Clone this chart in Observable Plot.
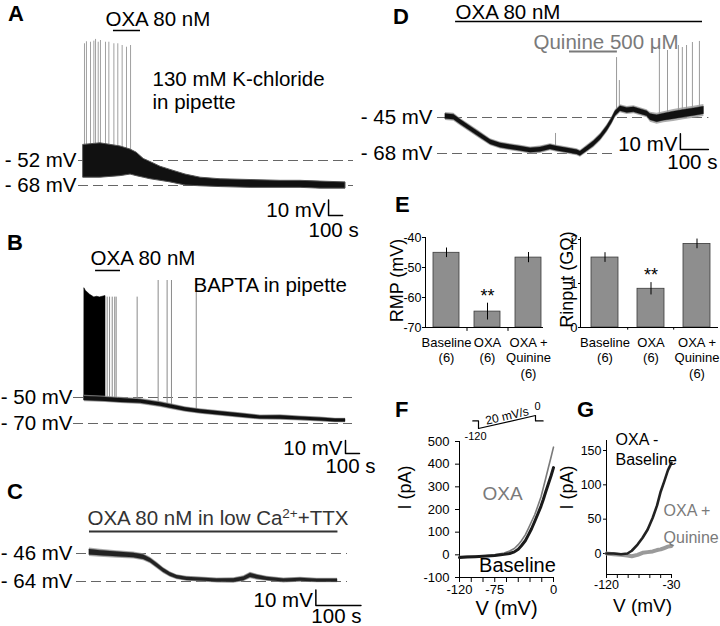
<!DOCTYPE html>
<html><head><meta charset="utf-8">
<script src="https://cdn.jsdelivr.net/npm/d3@7"></script>
<script src="https://cdn.jsdelivr.net/npm/@observablehq/plot@0.6"></script>
<style>
html,body{margin:0;padding:0;background:#fff;}
#fig{position:relative;width:720px;height:626px;overflow:hidden;background:#fff;font-family:"Liberation Sans",Arial,Helvetica,sans-serif;}
#fig svg{position:absolute;left:0;top:0;}
.letter{position:absolute;font-weight:bold;font-size:22px;line-height:1;color:#000;}
</style></head><body><div id="fig"></div>
<script>
// ---------- Panel A: 130 mM K-chloride in pipette ----------
const aLevels = [-52, -68];
const aOxa = [214, 407];                  // s, OXA application
const aTime = [0, 121, 264, 336, 380, 430, 479, 550, 621, 729, 836, 979, 1193, 1407, 1550, 1693, 1871];
const aLow  = [-63, -63, -62, -61, -62, -63, -64, -65, -66, -68, -68.5, -69, -69.5, -69.5, -69.5, -70, -70];
const aHigh = [-42, -41, -43, -45, -47, -51, -53, -56, -58, -61, -63, -64, -64.5, -65, -65, -65.5, -66];
const aSpikeTime = [7, 21, 50, 74, 86, 105, 121, 157, 181, 217, 245, 276, 307, 336];
const aSpikePeak = [22.7, 24, 23.7, 24.4, 25.5, 23.7, 24.8, 23.7, 23.7, 22.7, 22.7, 21.6, 20.5, 21.6];
const aSpikeBase = -52;
const aScale = [1750, -87.2];

// ---------- Panel B: BAPTA in pipette ----------
const bLevels = [-50, -70];
const bOxa = [79, 257];
const bTime  = [0, 150, 257, 400, 543, 614, 721, 829, 971, 1114, 1257, 1400, 1543, 1686, 1793, 1864];
const bMid   = [-50.8, -51.5, -52.3, -53.1, -55.4, -56.9, -59.2, -60.8, -62.3, -63.8, -65.4, -65.4, -66.2, -66.9, -67.7, -67.7];
const bNoise = [1.6, 1.5, 1.5, 1.4, 1.4, 1.4, 1.3, 1.3, 1.3, 1.3, 1.2, 1.3, 1.2, 1.2, 1.1, 1.1];
const bBurstTime = [0, 10, 40, 70, 90, 110, 150];
const bBurstTop  = [33.8, 32, 29, 27, 27.5, 27, 28];
const bBurstBase = -52;
const bSpikeTime = [162, 179, 198, 216, 226, 376, 526, 590, 621, 798];
const bSpikePeak = [27.2, 27.2, 27.2, 27.2, 27.2, 27.2, 40, 40, 40, 40];
const bSpikeBase = [-51, -51, -51, -52, -52, -53, -56, -57, -57, -60];
const bScale = [1864, -93.1];

// ---------- Panel C: low Ca2+ + TTX ----------
const cLevels = [-46, -64];
const cOxa = [0, 551];
const cTime  = [0, 24, 61, 98, 120, 135, 150, 164, 179, 194, 216, 246, 283, 320, 342, 357, 372, 394, 431, 468, 505, 543, 550];
const cMid   = [-45.2, -45.8, -46.6, -47.3, -48.4, -50.5, -53.7, -56.9, -59.5, -61.2, -62.3, -62.7, -63.4, -63.4, -62.3, -60.1, -61.2, -62.3, -63.4, -62.9, -63.4, -63.4, -63.4];
const cNoise = [1.7, 1.6, 1.5, 1.4, 1.4, 1.3, 1.3, 1.2, 1.1, 1.0, 1.0, 1.0, 1.0, 1.1, 1.2, 1.3, 1.2, 1.0, 1.0, 1.0, 0.9, 0.9, 0.9];
const cScale = [502, -79.4];

// ---------- Panel D: OXA then quinine ----------
const dLevels = [-45, -68];
const dOxa = [36, 918];
const dQuinine = [443, 614];
const dTime  = [0, 30, 54, 89, 125, 161, 196, 232, 268, 304, 339, 375, 399, 435, 470, 482, 506, 530, 554, 577, 595, 607, 625, 649, 673, 702, 720, 732, 756, 780, 815, 851, 887, 923];
const dMid   = [-44.4, -44.8, -48.0, -52.2, -56.5, -60.8, -62.9, -64.0, -65.0, -66.1, -65.6, -64.0, -65.0, -66.1, -67.2, -68.2, -65.0, -61.8, -57.6, -52.2, -46.9, -42.6, -39.4, -40.5, -40.1, -41.6, -42.6, -44.8, -45.8, -44.8, -43.7, -42.6, -41.6, -40.5];
const dNoise = [1.6, 1.6, 1.5, 1.5, 1.5, 1.4, 1.4, 1.4, 1.4, 1.4, 1.5, 1.4, 1.4, 1.4, 1.4, 1.4, 1.5, 1.6, 1.6, 1.6, 1.6, 1.6, 1.6, 1.6, 1.6, 1.6, 1.6, 2.0, 2.2, 2.2, 2.4, 2.4, 2.4, 2.4];
const dSpikeTime = [393, 611, 621, 764, 793, 832, 846, 861, 882, 907];
const dSpikePeak = [-55.2, -6.7, -21.4, -0.9, -2.2, 1.0, -0.3, 1.0, 2.9, 3.6];
const dSpikeBase = [-64, -42, -40, -44, -44, -43, -43, -43, -42, -41];
const dScale = [839, -65.4];

// ---------- Panel E: bar charts ----------
const eCats = ["Baseline", "OXA", "OXA + Quinine"];
const eTickLabels = ["Baseline", "OXA", "OXA +\nQuinine"];
const eN = [6, 6, 6];
const eRmp = [-45.1, -64.7, -46.7];
const eRmpErr = [1.6, 2.8, 1.7];
const eRin = [1.59, 0.88, 1.9];
const eRinErr = [0.11, 0.14, 0.11];
const eSig = ["", "**", ""];
const eRmpTicks = [-70, -60, -50, -40];
const eRinTicks = [0, 1, 2];

// ---------- Panel F: I-V ramps ----------
const fV    = [-120, -110, -100, -90, -80, -75, -70, -63, -56, -50, -45, -41, -36, -32, -28, -24, -20, -16, -13, -10, -6.5, -3, 0];
const fBase = [-12, -10, -8, -6, -4, -3, -1, 2, 6, 13, 25, 40, 62, 88, 115, 147, 180, 214, 244, 277, 314, 350, 385];
const fOxa  = [-8, -7, -6, -5, -2, 0, 3, 8, 17, 28, 45, 62, 88, 117, 147, 177, 215, 255, 296, 337, 385, 433, 475];
const fYTicks = [-100, 0, 100, 200, 300, 400, 500];
const fXTickLabels = [-120, -75, 0];
const protoT = [0, 0.6, 0.6, 6.6, 6.6, 7.4];
const protoV = [-50, -50, -120, 0, -50, -50];
const rampRate = 20;

// ---------- Panel G: difference currents ----------
const gV    = [-120, -110, -100, -91, -85, -77, -70, -63, -56, -50, -45, -40, -35, -30];
const gDiff = [0, 0, -1, 0, 4, 13, 23, 35, 52, 70, 90, 105, 121, 132];
const gQuin = [0, -1, -2, -3, -4, -2, 1, 2, 3, 5, 6, 8, 10, 11];
const gYTicks = [0, 50, 100, 150];
const gXTickLabels = [-120, -30];

// ================= drawing =================
const FONT = '"Liberation Sans", Arial, Helvetica, sans-serif';
const fig = document.getElementById("fig");
const GRAY = "#7a7a7a";
const DASH = {stroke: "#666", strokeWidth: 1, strokeDasharray: "10,5"};

function add(opts, fontSize = "20.5px") {
  const svg = Plot.plot({
    width: 720, height: 626,
    marginTop: 0, marginRight: 0, marginBottom: 0, marginLeft: 0,
    ...opts,
    style: {background: "none", fontFamily: FONT, fontSize, overflow: "visible",
            position: "absolute", left: "0px", top: "0px", maxWidth: "none"}
  });
  fig.appendChild(svg);
  return svg;
}
const lvl = d => `- ${Math.abs(d)} mV`;
const bandRows = (time, lo, hi) => time.map((t, i) => ({t, lo: lo[i], hi: hi[i]}));
const noisyRows = (time, mid, noise, k = 1) => time.map((t, i) => ({t, lo: mid[i] - k * noise[i], hi: mid[i] + k * noise[i]}));
const spikeRows = (time, base, peak) => time.map((t, i) => ({t, base: Array.isArray(base) ? base[i] : base, peak: peak[i]}));

function trace(time, mid, noise, color = "#111") {
  return [
    Plot.areaY(noisyRows(time, mid, noise, 1.6), {x: "t", y1: "lo", y2: "hi", fill: "#9a9a9a", fillOpacity: 0.8}),
    Plot.areaY(noisyRows(time, mid, noise), {x: "t", y1: "lo", y2: "hi", fill: color, stroke: color, strokeWidth: 0.4})
  ];
}
function levelMarks(levels, t0, t1, dx, insL, insR) {
  return [
    Plot.ruleY(levels, {x1: t0, x2: t1, ...DASH, insetLeft: insL, insetRight: insR}),
    Plot.text(levels, {x: t0, y: d => d, text: lvl, textAnchor: "end", dx})
  ];
}
function drug(interval, level, label, {dx = 0, dy = -10, color = "#000", width = 1.5} = {}) {
  return [
    Plot.ruleY([level], {x1: interval[0], x2: interval[1], stroke: color, strokeWidth: width}),
    Plot.text([label], {x: interval[0], y: level, dx, dy, textAnchor: "start", fill: color})
  ];
}
function scaleBar([t, v], dy = 13) {
  const path = [{t, v: v + 10}, {t, v}, {t: t + 100, v}];
  return [
    Plot.line(path, {x: "t", y: "v", stroke: "#000", strokeWidth: 1.5}),
    Plot.text(["10 mV"], {x: t, y: v, textAnchor: "end", dx: -3, dy: -5}),
    Plot.text(["100 s"], {x: t + 50, y: v, dy, dx: -2})
  ];
}
const note = (label, dx, dy, extra = {}) =>
  Plot.text([label], {frameAnchor: "top-left", dx, dy, textAnchor: "start", lineAnchor: "middle", ...extra});

// ----- A -----
add({
  x: {domain: [aTime[0], aTime.at(-1)], range: [83, 345], axis: null},
  y: {domain: aLevels, range: [160, 185], axis: null},
  marks: [
    ...levelMarks(aLevels, aTime[0], aTime.at(-1), -7, -5, -8),
    Plot.ruleX(spikeRows(aSpikeTime, aSpikeBase, aSpikePeak), {x: "t", y1: "base", y2: "peak", stroke: "#a0a0a0", strokeWidth: 1}),
    Plot.areaY(bandRows(aTime, aLow, aHigh), {x: "t", y1: "lo", y2: "hi", fill: "#111", stroke: "#555", strokeWidth: 1}),
    ...drug(aOxa, 31.2, "OXA 80 nM", {dx: -8, dy: -11, width: 1.5}),
    note("130 mM K-chloride\nin pipette", 152, 89.5, {lineHeight: 1.15}),
    ...scaleBar(aScale, 15)
  ]
});

// ----- B -----
add({
  x: {domain: [bTime[0], bTime.at(-1)], range: [84, 345], axis: null},
  y: {domain: bLevels, range: [397, 423], axis: null},
  marks: [
    ...levelMarks(bLevels, bTime[0], bTime.at(-1), -12, -11, -7),
    Plot.ruleX(spikeRows(bSpikeTime, bSpikeBase, bSpikePeak), {x: "t", y1: "base", y2: "peak", stroke: "#8a8a8a", strokeWidth: 1}),
    Plot.areaY(bandRows(bBurstTime, bBurstTime.map(() => bBurstBase), bBurstTop), {x: "t", y1: "lo", y2: "hi", fill: "#000", stroke: "#000", strokeWidth: 0.6}),
    ...trace(bTime, bMid, bNoise),
    ...drug(bOxa, 47.7, "OXA 80 nM", {dx: -5, dy: -12, width: 1.5}),
    note("BAPTA in pipette", 193, 285),
    ...scaleBar(bScale, 13)
  ]
});

// ----- C -----
const cParts = ["OXA 80 nM in low Ca", "2+", "+TTX"];
const cLabel = cParts.join("");
const cSvg = add({
  x: {domain: [cTime[0], cTime.at(-1)], range: [89, 337], axis: null},
  y: {domain: cLevels, range: [553, 581], axis: null},
  marks: [
    ...levelMarks(cLevels, cTime[0], cTime.at(-1), -17, -13, -10),
    ...trace(cTime, cMid, cNoise, "#222"),
    ...drug(cOxa, -31.9, cLabel, {dx: -2, dy: -13, color: "#333", width: 2}),
    ...scaleBar(cScale, 11)
  ]
});
for (const el of cSvg.querySelectorAll("text")) {
  if (el.textContent === cLabel) {
    el.textContent = "";
    const ns = "http://www.w3.org/2000/svg";
    const t1 = document.createElementNS(ns, "tspan"); t1.textContent = cParts[0];
    const t2 = document.createElementNS(ns, "tspan"); t2.textContent = cParts[1];
    t2.setAttribute("dy", "-7"); t2.setAttribute("font-size", "13.5");
    const t3 = document.createElementNS(ns, "tspan"); t3.textContent = cParts[2];
    t3.setAttribute("dy", "7");
    el.append(t1, t2, t3);
  }
}

// ----- D -----
add({
  x: {domain: [dTime[0], dTime.at(-1)], range: [445, 703.4], axis: null},
  y: {domain: dLevels, range: [117, 153], axis: null},
  marks: [
    Plot.ruleY([dLevels[0]], {x1: dTime[0], x2: dTime.at(-1), ...DASH, insetLeft: -8, insetRight: -5}),
    Plot.ruleY([dLevels[1]], {x1: dTime[0], x2: dQuinine[1], ...DASH, insetLeft: -8, insetRight: 0}),
    Plot.text(dLevels, {x: dTime[0], y: d => d, text: lvl, textAnchor: "end", dx: -13}),
    Plot.ruleX(spikeRows(dSpikeTime, dSpikeBase, dSpikePeak), {x: "t", y1: "base", y2: "peak", stroke: "#9a9a9a", strokeWidth: 1}),
    ...trace(dTime, dMid, dNoise),
    ...drug(dOxa, 16.3, "OXA 80 nM", {dx: 0, dy: -9, width: 1.5}),
    ...drug(dQuinine, -2.8, "Quinine 500 μM", {dx: -36, dy: -9, color: GRAY, width: 2}),
    ...scaleBar(dScale, 13)
  ]
});

// ----- E -----
const eRows = eCats.map((c, i) => ({cat: c, label: eTickLabels[i], n: eN[i], rmp: eRmp[i], rmpErr: eRmpErr[i], rin: eRin[i], rinErr: eRinErr[i], sig: eSig[i]}));
const eBarStyle = {fill: "#8e8e8e", stroke: "#3a3a3a", strokeWidth: 0.8};
const yTitle = (label, dx, dy, fontSize = 18) =>
  Plot.text([label], {frameAnchor: "left", dx, dy, rotate: -90, textAnchor: "middle", lineAnchor: "middle", fontSize});
add({
  marginLeft: 425, marginRight: 177, marginTop: 237, marginBottom: 299,
  x: {type: "band", domain: eCats, range: [425, 548], paddingInner: 0.37, paddingOuter: 0.185, axis: null},
  y: {domain: [-70, -40], range: [327, 237], ticks: eRmpTicks, tickSize: 3, tickPadding: 1, tickFormat: d => String(d), label: null, line: true},
  marks: [
    Plot.barY(eRows, {x: "cat", y1: -70, y2: "rmp", ...eBarStyle}),
    Plot.ruleX(eRows, {x: "cat", y1: d => d.rmp - d.rmpErr, y2: d => d.rmp + d.rmpErr, stroke: "#000", strokeWidth: 1}),
    Plot.ruleY([-70], {stroke: "#000"}),
    Plot.ruleX(eCats.slice(1), {x: d => d, y1: -70, y2: -71.3, dx: -20.5, stroke: "#000"}),
    Plot.text(eRows, {x: "cat", y: d => d.rmp + d.rmpErr, text: "sig", dy: -7, fontSize: 18}),
    Plot.text(eRows, {x: "cat", y: -70, text: d => `${d.label}\n(${d.n})`, lineAnchor: "top", dy: 8, fontSize: 13, lineHeight: 1.2}),
    yTitle("RMP (mV)", -28, -2)
  ]
}, "12.5px");
add({
  marginLeft: 580, marginRight: 2, marginTop: 237, marginBottom: 299,
  x: {type: "band", domain: eCats, range: [580, 720], paddingInner: 0.42, paddingOuter: 0.21, axis: null},
  y: {domain: [0, 2], range: [327, 239], ticks: eRinTicks, tickSize: 2, tickPadding: 1, tickFormat: d => String(d), label: null, line: true},
  marks: [
    Plot.barY(eRows, {x: "cat", y1: 0, y2: "rin", ...eBarStyle}),
    Plot.ruleX(eRows, {x: "cat", y1: d => d.rin - d.rinErr, y2: d => d.rin + d.rinErr, stroke: "#000", strokeWidth: 1}),
    Plot.ruleY([0], {stroke: "#000"}),
    Plot.ruleX(eCats.slice(1), {x: d => d, y1: 0, y2: -0.06, dx: -23.3, stroke: "#000"}),
    Plot.text(eRows, {x: "cat", y: d => d.rin + d.rinErr, text: "sig", dy: -7, fontSize: 18}),
    Plot.text(eRows, {x: "cat", y: 0, text: d => `${d.label}\n(${d.n})`, lineAnchor: "top", dy: 8, fontSize: 13, lineHeight: 1.2}),
    yTitle("Rinput (GΩ)", -13, -3)
  ]
}, "13px");

// ----- F -----
const fRows = fV.map((v, i) => ({v, base: fBase[i], oxa: fOxa[i]}));
add({
  marginLeft: 459, marginRight: 167, marginTop: 441, marginBottom: 49,
  x: {domain: [-120, 0], range: [459, 553], ticks: d3.range(-120, 1, 15), tickFormat: d => fXTickLabels.includes(d) ? String(d) : "", tickSize: 5, tickPadding: 2, label: null, line: true},
  y: {domain: [-100, 500], range: [577, 441], ticks: fYTicks, tickFormat: d => String(d), tickSize: 4, tickPadding: 6, label: null, line: true},
  marks: [
    Plot.line(fRows, {x: "v", y: "oxa", stroke: GRAY, strokeWidth: 1.6}),
    Plot.line(fRows, {x: "v", y: "base", stroke: "#1a1a1a", strokeWidth: 3}),
    Plot.text(["OXA"], {x: -65, y: 270, fill: GRAY, fontSize: 19}),
    Plot.text(["Baseline"], {x: -46, y: -47, fontSize: 20}),
    Plot.text(["V (mV)"], {frameAnchor: "bottom", lineAnchor: "middle", dy: 31, fontSize: 20}),
    yTitle("I (pA)", -54, -22)
  ]
}, "13px");
// voltage protocol inset
const proto = protoT.map((t, i) => ({t, v: protoV[i]}));
add({
  x: {domain: [protoT[2], protoT[3]], range: [478, 535], axis: null},
  y: {domain: [protoV[2], protoV[3]], range: [428, 415], axis: null},
  marks: [
    Plot.line(proto, {x: "t", y: "v", stroke: "#000", strokeWidth: 1.2}),
    Plot.text([`${rampRate} mV/s`], {x: (protoT[2] + protoT[3]) / 2, y: (protoV[2] + protoV[3]) / 2, rotate: -13, dy: -6, fontSize: 12}),
    Plot.text([String(protoV[2])], {x: protoT[2], y: protoV[2], dy: 8, dx: -3, fontSize: 11}),
    Plot.text([String(protoV[3])], {x: protoT[3], y: protoV[3], dy: -9, dx: 2, fontSize: 11})
  ]
}, "12px");

// ----- G -----
const gRows = gV.map((v, i) => ({v, diff: gDiff[i], quin: gQuin[i]}));
add({
  marginLeft: 606, marginRight: 49, marginTop: 440, marginBottom: 52,
  x: {domain: [-120, -30], range: [606, 671], ticks: d3.range(-120, -29, 15), tickFormat: d => gXTickLabels.includes(d) ? String(d) : "", tickSize: 4, tickPadding: 2, label: null, line: true},
  y: {domain: [0, 150], range: [553, 450], ticks: gYTicks, tickFormat: d => String(d), tickSize: 3, tickPadding: 2, label: null, line: true},
  marks: [
    Plot.line(gRows, {x: "v", y: "quin", stroke: "#9a9a9a", strokeWidth: 4}),
    Plot.line(gRows, {x: "v", y: "diff", stroke: "#222", strokeWidth: 2.6}),
    Plot.text(["OXA -\nBaseline"], {x: -107.5, y: 153, textAnchor: "start", lineHeight: 1.25, fontSize: 16}),
    Plot.text(["OXA +\nQuinine"], {x: -41, y: 48, textAnchor: "start", lineHeight: 1.7, fontSize: 16, fill: GRAY}),
    Plot.text(["V (mV)"], {frameAnchor: "bottom", lineAnchor: "middle", dx: 3.5, dy: 31, fontSize: 19}),
    yTitle("I (pA)", -39, -20)
  ]
}, "12.5px");

// ----- panel letters -----
for (const [ch, x, cy] of [["A", 8, 14], ["B", 7, 242.5], ["C", 7, 492], ["D", 393, 17], ["E", 395, 205], ["F", 395, 409.5], ["G", 577, 409.5]]) {
  const d = document.createElement("div");
  d.className = "letter";
  d.textContent = ch;
  d.style.left = x + "px";
  d.style.top = (cy - 10.75) + "px";
  fig.appendChild(d);
}
</script></body></html>
